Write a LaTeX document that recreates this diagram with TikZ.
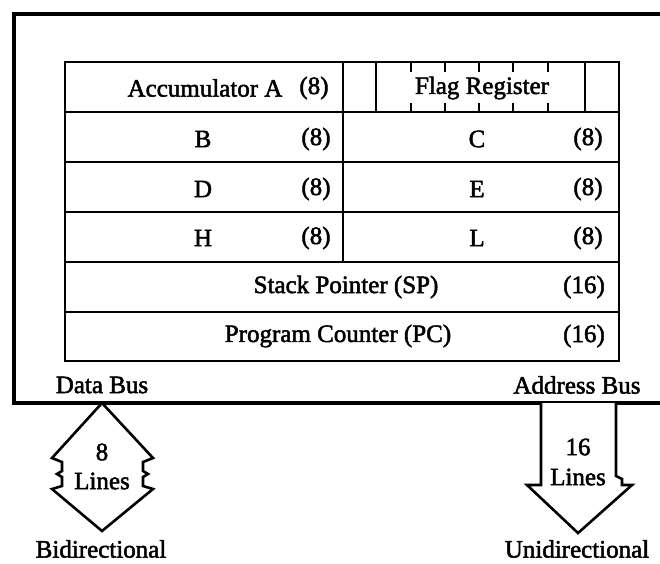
\documentclass[tikz,border=0pt]{standalone}
\usepackage{fontspec}
\newfontfamily\scanfont{Liberation Serif}[FakeBold=2]
\begin{document}
\begin{tikzpicture}[x=1pt,y=-1pt, line join=miter,
    lbl/.style={font=\scanfont\fontsize{25}{25}\selectfont, inner sep=0pt},
    regline/.style={line width=2.2pt},
    busline/.style={line width=3.2pt},
    arrowline/.style={line width=2.6pt}]
    \useasboundingbox (0,0) rectangle (660,563);
    % outer chip box, running off the right edge
    \begin{scope}
        \clip (0,0) rectangle (660,563);
        \draw[busline] (14,14) rectangle (700,403);
    \end{scope}
    % register table
    \draw[regline] (65,62) rectangle (619,361);
    \foreach \y in {112,162,212,262,312} {
        \draw[regline] (65,\y) -- (619,\y);
    }
    \draw[regline] (343,62) -- (343,262);
    % flag register cells and bit ticks
    \draw[regline] (376,62) -- (376,112);
    \draw[regline] (585,62) -- (585,112);
    \foreach \x in {411,445,479,513,548} {
        \draw[regline] (\x,62) -- (\x,72);
        \draw[regline] (\x,103) -- (\x,112);
    }
    % register names
    \node[lbl] (acc) at (205,88) {Accumulator A};
    \node[lbl] (accw) at (314,88) {(8)};
    \node[lbl] (flag) at (482,88) {Flag Register};
    \node[lbl] (regb) at (203,139) {B};
    \node[lbl] (regbw) at (316,139) {(8)};
    \node[lbl] (regc) at (477,139) {C};
    \node[lbl] (regcw) at (588,139) {(8)};
    \node[lbl] (regd) at (203,189) {D};
    \node[lbl] (regdw) at (316,189) {(8)};
    \node[lbl] (rege) at (477,189) {E};
    \node[lbl] (regew) at (588,189) {(8)};
    \node[lbl] (regh) at (203,238) {H};
    \node[lbl] (reghw) at (316,238) {(8)};
    \node[lbl] (regl) at (477,238) {L};
    \node[lbl] (reglw) at (588,238) {(8)};
    \node[lbl] (sp) at (346,287) {Stack Pointer (SP)};
    \node[lbl] (spw) at (584,287) {(16)};
    \node[lbl] (pc) at (338,336) {Program Counter (PC)};
    \node[lbl] (pcw) at (584,336) {(16)};
    % buses
    \node[lbl] (dbus) at (102,385) {Data Bus};
    \node[lbl] (abus) at (577,385) {Address Bus};
    \draw[arrowline, fill=white] (102,403) -- (52,458) -- (62,462) -- (62,471)
        -- (57,474) -- (62,477) -- (62,486) -- (52,489) -- (102,531)
        -- (153,489) -- (143,486) -- (143,477) -- (148,474) -- (143,471)
        -- (143,462) -- (153,458) -- cycle;
    \node[lbl] (dlines) at (102,452) {8};
    \node[lbl] (dlines2) at (102,481) {Lines};
    \draw[arrowline, fill=white] (541,403) -- (541,485) -- (527,485) -- (578,533)
        -- (632,485) -- (622,485) -- (622,479) -- (616,476) -- (616,403);
    \node[lbl] (alines) at (578,447) {16};
    \node[lbl] (alines2) at (578,477) {Lines};
    \node[lbl] (bidir) at (101,549) {Bidirectional};
    \node[lbl] (unidir) at (577,549) {Unidirectional};
\end{tikzpicture}
\end{document}
